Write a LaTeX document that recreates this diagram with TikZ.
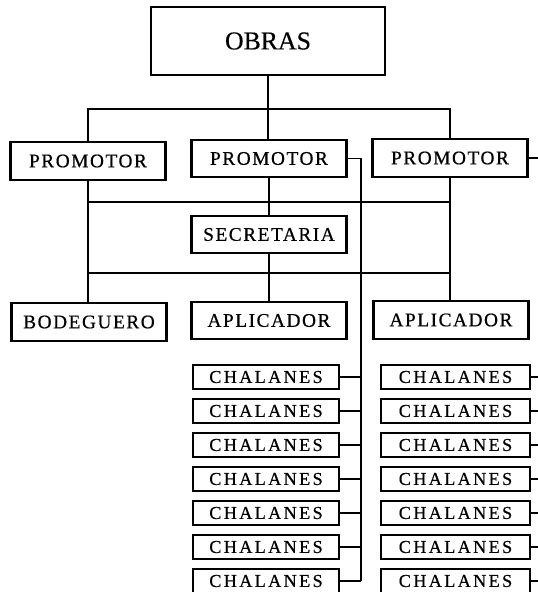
\documentclass[tikz,border=0pt]{standalone}
\usepackage{fontspec}
\usepackage{tikz}
\newfontfamily\orgfont{Liberation Serif}[LetterSpace=8, FakeBold=0.5]
\newfontfamily\chalfont{Liberation Serif}[LetterSpace=13, FakeBold=0.5]
\newfontfamily\titlefont{Liberation Serif}[LetterSpace=0, FakeBold=0.4]

\begin{document}
\begin{tikzpicture}[x=0.03cm, y=-0.03cm,
  box/.style={draw, line width=1.8pt, inner sep=0pt, minimum width=4.65cm, minimum height=1.12cm, font=\orgfont\fontsize{16.5}{18}\selectfont},
  small/.style={draw, line width=1.8pt, inner sep=0pt, minimum width=4.4cm, minimum height=0.72cm, font=\chalfont\fontsize{15.5}{17}\selectfont},
  link/.style={line width=1.3pt}]
  \useasboundingbox (0,0) rectangle (538,592);
  \node[draw, line width=1.8pt, minimum width=7.02cm, minimum height=2.04cm, font=\titlefont\fontsize{22}{24}\selectfont] (obras) at (268,41) {OBRAS};
  \node[box] (promL) at (88,161) {PROMOTOR};
  \node[box] (promM) at (269,158.5) {PROMOTOR};
  \node[box] (promR) at (450,158) {PROMOTOR};
  \node[box] (secre) at (269,234.5) {SECRETARIA};
  \node[box] (bode) at (89,322) {BODEGUERO};
  \node[box] (aplM) at (269,320.5) {APLICADOR};
  \node[box] (aplR) at (451,320) {APLICADOR};
  \coordinate (top) at (268,109);
  \coordinate (midA) at (268,202);
  \coordinate (midB) at (268,273);
  \coordinate (spineL) at (361,0);
  \coordinate (spineR) at (538,0);
  \draw[link] (obras.south) -- (obras.south |- promM.north);
  \draw[link] (promL.north) |- (top) -| (promR.north);
  \draw[link] (promL.south) -- (bode.north -| promL.south);
  \draw[link] (promM.south) -- (secre.north);
  \draw[link] (secre.south) -- (aplM.north);
  \draw[link] (promR.south) -- (aplR.north -| promR.south);
  \draw[link] (promL.south |- midA) -- (promR.south |- midA);
  \draw[link] (promL.south |- midB) -- (promR.south |- midB);
  \foreach \i/\y in {1/377, 2/411, 3/445, 4/479, 5/513, 6/547, 7/581} {
    \node[small] (chalL\i) at (266,\y) {CHALANES};
    \node[small, minimum width=4.47cm] (chalR\i) at (455.5,\y) {CHALANES};
    \draw[link] (chalL\i.east) -- (spineL |- chalL\i.east);
    \draw[link] (chalR\i.east) -- (spineR |- chalR\i.east);
  }
  \draw[link] (promM.east) -| (spineL |- chalL7.east);
  \draw[link] (promR.east) -- (spineR |- promR.east);
\end{tikzpicture}
\end{document}
